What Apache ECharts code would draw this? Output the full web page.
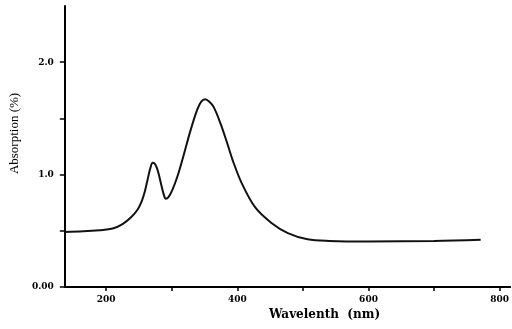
<!DOCTYPE html>
<html>
<head>
<meta charset="utf-8">
<script src="https://cdn.jsdelivr.net/npm/echarts@6/dist/echarts.min.js"></script>
<style>html,body{margin:0;padding:0;background:#fff}#c{width:512px;height:329px}</style>
</head>
<body>
<div id="c"></div>
<script>
var wavelengths = [137,165,190,210,225,238,248,254,259,263,267,271,275,279,284,288,291,295,301,309,319,329,339,345,351,357,364,374,384,394,407,427,452,477,507,540,600,700,771];
var absorption  = [0.49,0.495,0.505,0.52,0.56,0.62,0.69,0.76,0.85,0.95,1.05,1.105,1.09,1.03,0.91,0.82,0.785,0.80,0.865,0.99,1.19,1.40,1.58,1.65,1.67,1.65,1.60,1.46,1.29,1.11,0.92,0.71,0.57,0.48,0.425,0.41,0.405,0.41,0.42];
var xTicks = [200,300,400,500,600,700,800];
var xLabels = [200,400,600,800];
var yTicks = [0,0.5,1.0,1.5,2.0];
var yLabels = {0:'0.00',1:'1.0',2:'2.0'};
var xTitle = 'Wavelenth  (nm)';
var yTitle = 'Absorption (%)';

var pts = wavelengths.map(function(w,i){return [w, absorption[i]];});
var chart = echarts.init(document.getElementById('c'));
chart.setOption({
  animation:false,
  backgroundColor:'#fff',
  grid:{left:61,right:0,top:6,bottom:42},
  xAxis:{
    type:'value', min:137, max:816,
    axisLine:{show:true,lineStyle:{color:'#000',width:2}},
    axisTick:{show:true,customValues:xTicks,length:4,lineStyle:{color:'#000',width:1.5}},
    axisLabel:{customValues:xLabels,margin:8,color:'#000',fontFamily:'DejaVu Serif',fontWeight:'bold',fontSize:9},
    splitLine:{show:false},
    name:xTitle, nameLocation:'middle', nameGap:20,
    nameTextStyle:{color:'#000',fontFamily:'DejaVu Serif',fontWeight:'bold',fontSize:12,padding:[0,0,0,74]}
  },
  yAxis:{
    type:'value', min:0, max:2.5,
    axisLine:{show:true,lineStyle:{color:'#000',width:2}},
    axisTick:{show:true,customValues:yTicks,length:5,lineStyle:{color:'#000',width:1.5}},
    axisLabel:{customValues:[0,1,2],margin:11,color:'#000',fontFamily:'DejaVu Serif',fontWeight:'bold',fontSize:9,
      formatter:function(v){return yLabels[v]!==undefined?yLabels[v]:'';}},
    splitLine:{show:false},
    name:yTitle, nameLocation:'middle', nameRotate:90, nameGap:37,
    nameTextStyle:{color:'#000',fontFamily:'Liberation Serif',fontSize:13,padding:[0,0,0,26]}
  },
  series:[{
    type:'line', data:pts, smooth:0.35, showSymbol:false,
    lineStyle:{color:'#111',width:2}
  }]
});
</script>
</body>
</html>
